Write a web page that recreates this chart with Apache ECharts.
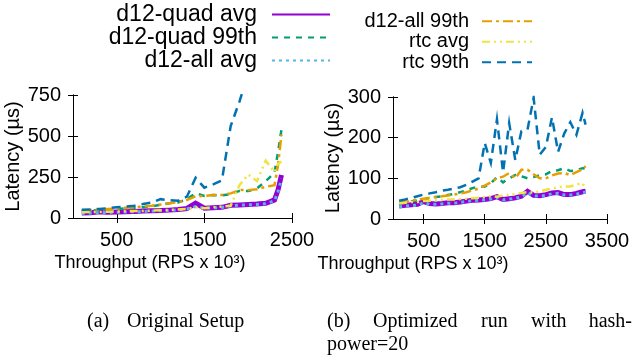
<!DOCTYPE html>
<html>
<head>
<meta charset="utf-8">
<script src="https://cdn.jsdelivr.net/npm/echarts@6/dist/echarts.min.js"></script>
<style>
  html, body { margin: 0; padding: 0; background: #fff; }
  #chart { width: 635px; height: 358px; }
</style>
</head>
<body>
<div id="chart"></div>
<script>
// (a) original setup
const thrA = [100, 200, 300, 400, 500, 600, 700, 800, 900, 1000, 1100, 1200, 1300, 1400, 1500, 1600, 1700, 1800, 1900, 2000, 2100, 2200, 2300, 2340, 2380];
const quadAvgA = [30, 32, 38, 35, 36, 38, 40, 42, 44, 45, 48, 52, 58, 90, 60, 62, 65, 78, 80, 82, 85, 90, 110, 170, 262];
const quad99A = [42, 45, 48, 52, 55, 58, 62, 66, 72, 80, 90, 95, 115, 150, 135, 140, 138, 145, 165, 165, 180, 225, 275, 400, 540];
const allAvgA = [28, 30, 33, 34, 35, 37, 38, 40, 42, 44, 46, 50, 55, 70, 60, 62, 64, 75, 78, 80, 82, 88, 105, 160, 240];
const all99A = [45, 48, 52, 55, 58, 62, 65, 70, 75, 82, 90, 97, 110, 132, 135, 140, 140, 150, 170, 170, 175, 190, 200, 320, 510];
const rtcAvgA = [35, 36, 37, 38, 40, 41, 42, 43, 45, 47, 50, 52, 55, 65, 60, 65, 70, 75, 200, 265, 225, 350, 280, 330, 345];
const rtc99A = [50, 52, 55, 60, 65, 70, 75, 85, 95, 115, 108, 105, 130, 245, 185, 205, 230, 560, 710, 880, null, null, null, null, null];

// (b) optimized run, hashpower=20
const thrB = [100, 200, 300, 400, 500, 600, 700, 800, 900, 1000, 1100, 1200, 1300, 1400, 1500, 1600, 1700, 1800, 1900, 2000, 2100, 2200, 2300, 2400, 2500, 2600, 2700, 2800, 2900, 3000, 3100, 3150];
const quadAvgB = [32, 34, 35, 36, 43, 38, 37, 38, 40, 40, 42, 44, 46, 47, 48, 50, 55, 48, 50, 52, 56, 68, 58, 57, 60, 64, 65, 60, 60, 63, 67, 68];
const quad99B = [38, 40, 43, 46, 48, 51, 54, 56, 59, 62, 66, 70, 76, 79, 80, 88, 103, 90, 100, 108, 105, 100, 103, 108, 110, 118, 120, 125, 118, 120, 125, 124];
const allAvgB = [30, 32, 33, 34, 40, 36, 36, 37, 39, 39, 41, 43, 45, 46, 47, 49, 53, 47, 49, 51, 54, 65, 57, 56, 58, 62, 63, 59, 59, 61, 65, 66];
const all99B = [40, 42, 45, 48, 50, 52, 54, 56, 58, 60, 63, 66, 70, 75, 82, 90, 100, 104, 113, 100, 121, 121, 110, 100, 100, 107, 112, 113, 108, 115, 122, 130];
const rtcAvgB = [38, 40, 42, 42, 44, 45, 46, 47, 48, 48, 49, 50, 51, 52, 54, 56, 55, 58, 60, 62, 64, 66, 65, 68, 72, 75, 78, 80, 80, 85, 88, 75];
const rtc99B = [45, 48, 52, 56, 60, 63, 66, 70, 72, 75, 78, 84, 92, 100, 187, 138, 245, 115, 236, 145, 216, 220, 298, 158, 177, 250, 165, 210, 238, 207, 261, 232];

const xTicksA = [500, 1500, 2500];
const xTicksB = [500, 1500, 2500, 3500];

const names = ['d12-quad avg', 'd12-quad 99th', 'd12-all avg', 'd12-all 99th', 'rtc avg', 'rtc 99th'];
const styles = [
  { color: '#9400d3', width: 5, type: 'solid' },
  { color: '#009e73', width: 2.5, type: [6, 6] },
  { color: '#56b4e9', width: 3, type: [3, 4] },
  { color: '#e69f00', width: 2.5, type: [10, 4, 3, 4] },
  { color: '#f0e442', width: 2.5, type: [8, 4, 2, 4, 2, 4] },
  { color: '#0072b2', width: 2.5, type: [9, 6] }
];

const FONT = 'Liberation Sans';
const SERIF = '20px "Liberation Serif"';
const chart = echarts.init(document.getElementById('chart'));

function makeSeries(xs, ys, idx, grid) {
  const st = styles[idx];
  return {
    name: names[idx],
    type: 'line',
    xAxisIndex: grid * 2,
    yAxisIndex: grid * 2,
    symbol: 'none',
    clip: true,
    data: xs.map((x, i) => [x, ys[i]]),
    itemStyle: { color: st.color },
    lineStyle: { color: st.color, width: st.width, type: st.type, cap: 'butt', join: 'miter' }
  };
}

function xAxes(grid, max, ticks, name, shift) {
  const base = {
    gridIndex: grid, type: 'value', min: 0, max: max,
    axisLine: { lineStyle: { color: '#000', width: 1 } },
    splitLine: { show: false }
  };
  return [
    Object.assign({}, base, {
      position: 'bottom',
      axisTick: { inside: true, length: 5, customValues: ticks, lineStyle: { color: '#000' } },
      axisLabel: { customValues: ticks, formatter: v => String(v), fontFamily: FONT, fontSize: 20, color: '#000', margin: 12 },
      name: name, nameLocation: 'middle', nameGap: 36,
      nameTextStyle: { fontFamily: FONT, fontSize: 18, color: '#000', padding: [0, shift, 0, 0] }
    }),
    Object.assign({}, base, {
      position: 'top',
      axisTick: { inside: true, length: 5, customValues: ticks, lineStyle: { color: '#000' } },
      axisLabel: { show: false }
    })
  ];
}

function yAxes(grid, max, step, gap) {
  const base = {
    gridIndex: grid, type: 'value', min: 0, max: max, interval: step,
    axisLine: { show: true, lineStyle: { color: '#000', width: 1 } },
    axisTick: { show: true, inside: true, length: 5, lineStyle: { color: '#000' } },
    splitLine: { show: false }
  };
  return [
    Object.assign({}, base, {
      position: 'left',
      axisLabel: { fontFamily: FONT, fontSize: 20, color: '#000', margin: 12 },
      name: 'Latency (µs)', nameLocation: 'middle', nameRotate: 90, nameGap: gap,
      nameTextStyle: { fontFamily: FONT, fontSize: 20, color: '#000' }
    }),
    Object.assign({}, base, { position: 'right', axisLabel: { show: false } })
  ];
}

const legendBase = {
  orient: 'vertical', align: 'right', padding: 0, itemGap: 0,
  selectedMode: false,
  lineStyle: { width: 2 },
  itemStyle: { opacity: 0, borderWidth: 0 }
};

const series = [];
for (let i = 0; i < 6; i++) {
  series.push(makeSeries(thrA, [quadAvgA, quad99A, allAvgA, all99A, rtcAvgA, rtc99A][i], i, 0));
}
for (let i = 0; i < 6; i++) {
  series.push(makeSeries(thrB, [quadAvgB, quad99B, allAvgB, all99B, rtcAvgB, rtc99B][i], i, 1));
}

chart.setOption({
  animation: false,
  backgroundColor: '#fff',
  legend: [
    Object.assign({}, legendBase, {
      data: names.slice(0, 3), right: 304, top: 3,
      itemWidth: 58, itemHeight: 14,
      textStyle: { fontFamily: FONT, fontSize: 23, lineHeight: 23, color: '#000', padding: [0, 10, 0, 0] }
    }),
    Object.assign({}, legendBase, {
      data: names.slice(3), right: 102, top: 11,
      itemWidth: 50, itemHeight: 14,
      textStyle: { fontFamily: FONT, fontSize: 20, lineHeight: 20.5, color: '#000', padding: [0, 8, 0, 0] }
    })
  ],
  grid: [
    { left: 73, top: 95, width: 219, height: 123 },
    { left: 393, top: 97, width: 214, height: 122 }
  ],
  xAxis: xAxes(0, 2500, xTicksA, 'Throughput (RPS x 10³)', 65).concat(
         xAxes(1, 3500, xTicksB, 'Throughput (RPS x 10³)', 174)),
  yAxis: yAxes(0, 750, 250, 46).concat(yAxes(1, 300, 100, 48)),
  series: series,
  graphic: [
    { type: 'text', left: 87, top: 312, style: { text: '(a)', font: SERIF, fill: '#000' } },
    { type: 'text', left: 127, top: 312, style: { text: 'Original Setup', font: SERIF, fill: '#000' } },
    { type: 'text', left: 327, top: 312, style: { text: '(b)', font: SERIF, fill: '#000' } },
    { type: 'text', left: 373, top: 312, style: { text: 'Optimized', font: SERIF, fill: '#000' } },
    { type: 'text', left: 481, top: 312, style: { text: 'run', font: SERIF, fill: '#000' } },
    { type: 'text', left: 531, top: 312, style: { text: 'with', font: SERIF, fill: '#000' } },
    { type: 'text', right: 3, top: 312, style: { text: 'hash-', font: SERIF, fill: '#000' } },
    { type: 'text', left: 327, top: 335, style: { text: 'power=20', font: SERIF, fill: '#000' } }
  ]
});
</script>
</body>
</html>
